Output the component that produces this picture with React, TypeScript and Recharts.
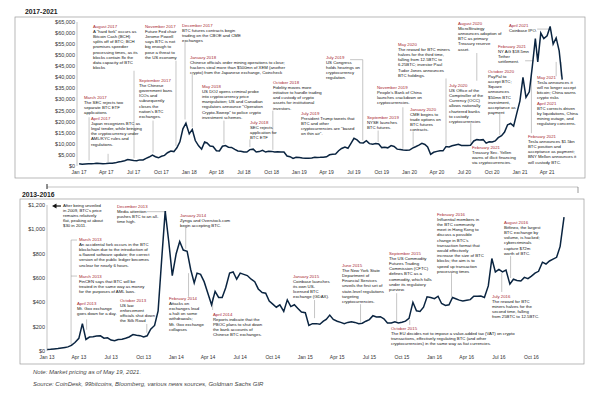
import React from "react";
import { LineChart, Line, XAxis, YAxis, ReferenceLine } from "recharts";

// ---- price data: one value per ten-day period (1st, 11th, 21st of each month) ----
const dekadDays = [1, 11, 21];

const topYears = [2017, 2018, 2019, 2020, 2021];
const price2017 = [
  1000, 800, 920, 990, 1000, 1110, 1230, 1150, 1000, 1080, 1200, 1260,
  1420, 1820, 2050, 2400, 2900, 2700, 2480, 2330, 2750, 2720, 3450, 4050,
  4900, 4200, 3700, 4400, 4800, 6000, 6750, 6500, 8200, 10900, 16800, 19300,
];
const price2018 = [
  14500, 16500, 11500, 9100, 7600, 10800, 10400, 9000, 8800, 6900, 6800, 8900,
  9200, 8500, 8400, 7500, 6800, 6700, 6350, 6300, 7400, 7600, 6300, 6500,
  7100, 6300, 6700, 6600, 6300, 6450, 6350, 6350, 4500, 4200, 3450, 3950,
];
const price2019 = [
  3800, 3650, 3550, 3450, 3650, 3950, 3850, 3900, 4000, 4150, 5050, 5300,
  5400, 6900, 7900, 8550, 8000, 10200, 12500, 11800, 10500, 10400, 11400, 10100,
  9800, 10100, 9950, 8300, 8500, 8200, 9200, 8800, 7600, 7400, 7200, 7150,
];
const price2020 = [
  7200, 8100, 8700, 9400, 10200, 9700, 8600, 5300, 6200, 6600, 6900, 6850,
  8800, 8600, 9100, 9500, 9800, 9300, 9200, 9250, 9400, 11300, 11900, 11700,
  11900, 10300, 10900, 10800, 11300, 12800, 13700, 15300, 18600, 19200, 18000, 23500,
];
const price2021 = [29400, 40000, 31000, 33500, 45000, 57500, 47000, 60000, 57500, 58800, 63000, 55000, 57800, 52000, 39000];
const topSeries = [price2017, price2018, price2019, price2020, price2021];

const bottomYears = [2013, 2014, 2015, 2016, 2017];
const price2013 = [
  13.3, 14.2, 17, 20, 24.5, 29.5, 34, 46, 70, 104, 225, 95,
  115, 118, 124, 125, 105, 108, 90, 85, 95, 97, 105, 115,
  135, 130, 126, 115, 125, 180, 210, 330, 750, 1150, 900, 620,
];
const price2014 = [
  800, 900, 830, 820, 670, 560, 640, 630, 570, 470, 380, 490,
  440, 440, 520, 640, 650, 590, 640, 630, 620, 590, 570, 510,
  480, 475, 410, 385, 360, 380, 325, 420, 365, 380, 350, 320,
];
const price2015 = [
  315, 210, 225, 225, 220, 245, 260, 295, 260, 245, 235, 225,
  235, 240, 235, 225, 228, 245, 258, 290, 280, 282, 265, 230,
  230, 240, 230, 237, 245, 268, 400, 330, 325, 360, 445, 440,
];
const price2016 = [
  430, 450, 390, 375, 380, 440, 430, 418, 412, 417, 422, 450,
  450, 452, 440, 535, 760, 650, 670, 650, 665, 550, 590, 580,
  575, 605, 595, 615, 640, 655, 730, 715, 740, 755, 770, 860,
];
const price2017b = [1100];
const bottomSeries = [price2013, price2014, price2015, price2016, price2017b];

// ---- axes ----
const topTickLabels = [
  "Jan 17", "Apr 17", "Jul 17", "Oct 17", "Jan 18", "Apr 18", "Jul 18", "Oct 18", "Jan 19",
  "Apr 19", "Jul 19", "Oct 19", "Jan 20", "Apr 20", "Jul 20", "Oct 20", "Jan 21", "Apr 21",
];
const bottomTickLabels = [
  "Jan 13", "Apr 13", "Jul 13", "Oct 13", "Jan 14", "Apr 14", "Jul 14", "Oct 14",
  "Jan 15", "Apr 15", "Jul 15", "Oct 15", "Jan 16", "Apr 16", "Jul 16", "Oct 16",
];
const topYTicks = [0, 5000, 10000, 15000, 20000, 25000, 30000, 35000, 40000, 45000, 50000, 55000, 60000, 65000];
const topYLabels = ["$0", "$5,000", "$10,000", "$15,000", "$20,000", "$25,000", "$30,000", "$35,000", "$40,000", "$45,000", "$50,000", "$55,000", "$60,000", "$65,000"];
const bottomYTicks = [0, 200, 400, 600, 800, 1000, 1200];
const bottomYLabels = ["$0", "$200", "$400", "$600", "$800", "$1,000", "$1,200"];

// ---- leader lines: [date, low, high] in price units ----
const topLeaders: [string, number, number][] = [
  ["2017-02-03", 2500, 22000],
  ["2017-04-07", 1800, 5500],
  ["2017-07-02", 3500, 43000],
  ["2017-09-03", 6000, 20500],
  ["2017-11-18", 9000, 47500],
  ["2017-12-18", 21000, 56000],
  ["2018-01-11", 17500, 41500],
  ["2018-04-26", 10000, 20500],
  ["2018-07-21", 8500, 12000],
  ["2018-10-05", 7300, 25000],
  ["2019-07-30", 11500, 48000],
  ["2019-09-19", 10800, 16000],
  ["2019-12-10", 7800, 26500],
  ["2020-01-13", 8800, 15600],
  ["2020-05-01", 9500, 39500],
  ["2020-07-22", 10200, 19300],
  ["2020-08-11", 38500, 51000],
  ["2020-10-26", 14000, 23500],
  ["2021-02-08", 14800, 42000],
  ["2021-05-01", 40500, 47000],
  ["2021-05-17", 40500, 47000],
];
const topFlatLeaders: [string, string, number][] = [
  ["2019-06-18", "2019-07-30", 48000],
  ["2021-01-18", "2021-02-17", 47500],
  ["2021-02-27", "2021-04-08", 61800],
];
const bottomLeaders: [string, number, number][] = [
  ["2013-03-10", 50, 912],
  ["2013-04-23", 175, 260],
  ["2013-10-10", 150, 222],
  ["2014-01-28", 840, 1011],
  ["2014-02-05", 445, 640],
  ["2014-04-14", 337, 440],
  ["2015-01-27", 270, 419],
  ["2015-06-06", 240, 385],
  ["2015-09-16", 245, 475],
  ["2015-10-23", 214, 255],
  ["2016-02-18", 445, 640],
  ["2016-08-03", 600, 780],
  ["2016-07-09", 485, 640],
];
const bottomFlatLeaders: [string, string, number][] = [
  ["2013-03-10", "2013-03-27", 912],
  ["2013-03-10", "2013-03-27", 616],
  ["2013-10-10", "2013-12-05", 1145],
];

// ---- annotation texts ----
type Note = { x: number; y: number; title: string; lines: string[] };
const topNotes: Note[] = [
  { x: 84, y: 97, title: "March 2017", lines: ["The SEC rejects two", "separate BTC ETF", "applications"] },
  { x: 91, y: 118, title: "April 2017", lines: ["Japan recognizes BTC as", "legal tender, while bringing", "the cryptocurrency under", "AML/KYC rules and", "regulations."] },
  { x: 93, y: 26, title: "August 2017", lines: ['A "hard fork" occurs as', "Bitcoin Cash (BCH)", "splits off of BTC; BCH", "promises speedier", "processing times, as its", "blocks contain 8x the", "data capacity of BTC", "blocks"] },
  { x: 139, y: 80, title: "September 2017", lines: ["The Chinese", "government bans", "ICOs and", "subsequently", "closes the", "nation's BTC", "exchanges."] },
  { x: 145, y: 26, title: "November 2017", lines: ["Future Fed chair", "Jerome Powell", "says BTC is not", "big enough to", "pose a threat to", "the US economy"] },
  { x: 182, y: 25, title: "December 2017", lines: ["BTC futures contracts begin", "trading on the CBOE and CME", "exchanges"] },
  { x: 190, y: 57, title: "January 2018", lines: ["Chinese officials order mining operations to close;", "hackers steal more than $500mn of XEM (another", "crypto) from the Japanese exchange, Coincheck"] },
  { x: 202, y: 86, title: "May 2018", lines: ["US DOJ opens criminal probe", "into cryptocurrency price", "manipulation; US and Canadian", 'regulators announce "Operation', 'Crypto-Sweep" to police crypto', "investment schemes."] },
  { x: 250, y: 122, title: "July 2018", lines: ["SEC rejects", "application for", "BTC ETF"] },
  { x: 273, y: 82, title: "October 2018", lines: ["Fidelity moves more", "initiative to handle trading", "and custody of crypto", "assets for institutional", "investors."] },
  { x: 326, y: 57, title: "July 2019", lines: ["US Congress", "holds hearings on", "cryptocurrency", "regulation."] },
  { x: 301, y: 113, title: "July 2019", lines: ["President Trump tweets that", "BTC and other", 'cryptocurrencies are "based', 'on thin air".'] },
  { x: 377, y: 87, title: "November 2019", lines: ["People's Bank of China", "launches crackdown on", "cryptocurrencies."] },
  { x: 367, y: 117, title: "September 2019", lines: ["NYSE launches", "BTC futures."] },
  { x: 398, y: 44, title: "May 2020", lines: ["The reward for BTC miners", "halves for the third time,", "falling from 12.5BTC to", "6.25BTC; investor Paul", "Tudor Jones announces", "BTC holdings."] },
  { x: 410, y: 109, title: "January 2020", lines: ["CME begins to", "trade options on", "BTC futures", "contracts."] },
  { x: 458, y: 23, title: "August 2020", lines: ["MicroStrategy", "announces adoption of", "BTC as primary", "Treasury reserve", "asset."] },
  { x: 449, y: 85, title: "July 2020", lines: ["US Office of the", "Comptroller of the", "Currency (OCC)", "allows nationally", "chartered banks", "to custody", "cryptocurrencies"] },
  { x: 488, y: 71, title: "October 2020", lines: ["PayPal to", "accept BTC;", "Square", "announces", "$50mn BTC", "investment,", "acceptance as", "payment"] },
  { x: 498, y: 46, title: "February 2021", lines: ["NY AG $18.5mn", "Tether", "settlement."] },
  { x: 509, y: 25, title: "April 2021", lines: ["Coinbase IPO."] },
  { x: 537, y: 77, title: "May 2021", lines: ["Tesla announces it", "will no longer accept", "bitcoin; China warns", "crypto risks"] },
  { x: 537, y: 103, title: "April 2021", lines: ["BTC corrects driven", "by liquidations, China", "mining outage, and", "regulatory concerns."] },
  { x: 528, y: 136, title: "February 2021", lines: ["Tesla announces $1.5bn", "BTC position and", "acceptance as payment;", "BNY Mellon announces it", "will custody BTC."] },
  { x: 472, y: 147, title: "February 2021", lines: ["Treasury Sec. Yellen", "warns of illicit financing", "via cryptocurrencies."] },
];
const bottomNotes: Note[] = [
  { x: 63, y: 205, title: "", lines: ["After being unveiled", "in 2009, BTC's price", "remains relatively", "flat, peaking at about", "$30 in 2011."] },
  { x: 117, y: 206, title: "December 2013", lines: ["Media attention", "pushes BTC to an all-", "time high."] },
  { x: 79, y: 239, title: "March 2013", lines: ["An accidental fork occurs in the BTC", "blockchain due to the introduction of", "a flawed software update; the correct", "version of the public ledger becomes", "unclear for nearly 6 hours."] },
  { x: 79, y: 276, title: "March 2013", lines: ["FinCEN says that BTC will be", "treated in the same way as money", "for the purposes of AML laws."] },
  { x: 77, y: 303, title: "April 2013", lines: ["Mt. Gox exchange", "goes down for a day."] },
  { x: 120, y: 300, title: "October 2013", lines: ["US law", "enforcement", "officials shut down", "the Silk Road"] },
  { x: 180, y: 215, title: "January  2014", lines: ["Zynga and Overstock.com", "begin accepting BTC."] },
  { x: 169, y: 298, title: "February 2014", lines: ["Attacks on", "exchanges lead", "a halt on some", "withdrawals;", "Mt. Gox exchange", "collapses"] },
  { x: 213, y: 314, title: "April 2014", lines: ["Reports indicate that the", "PBOC plans to shut down", "the bank accounts of", "Chinese BTC exchanges."] },
  { x: 293, y: 276, title: "January 2015", lines: ["Coinbase launches", "its own US-", "licensed BTC", "exchange (GDAX)."] },
  { x: 342, y: 265, title: "June 2015", lines: ["The New York State", "Department of", "Financial Services", "unveils the first set of", "state-level regulations", "targeting", "cryptocurrencies."] },
  { x: 389, y: 253, title: "September 2015", lines: ["The US Commodity", "Futures Trading", "Commission (CFTC)", "defines BTC as a", "commodity, which falls", "under its regulatory", "purview."] },
  { x: 391, y: 328, title: "October 2015", lines: ["The EU decides not to impose a value-added tax (VAT) on crypto", "transactions, effectively regulating BTC (and other", "cryptocurrencies) in the same way as fiat currencies."] },
  { x: 437, y: 214, title: "February 2016", lines: ["Influential members in", "the BTC community", "meet in Hong Kong to", "discuss a possible", "change in BTC's", "transaction format that", "would effectively", "increase the size of BTC", "blocks; the aim is to", "speed up transaction", "processing times"] },
  { x: 504, y: 222, title: "August 2016", lines: ["Bitfinex, the largest", "BTC exchange by", "volume, is hacked;", "cybercriminals", "capture $72m", "worth of BTC."] },
  { x: 492, y: 296, title: "July 2016", lines: ["The reward for BTC", "miners halves for the", "second time, falling", "from 25BTC to 12.5BTC."] },
];

const FONT = "'Liberation Sans', Arial, Helvetica, sans-serif";
const RED = "#a8262f";
const LINE = "#0a2440";
const GREY = "#8c8c8c";
const FS = 4.3;
const LH = 5.2;

const MONTH_INDEX: Record<string, number> = { Jan: 0, Apr: 3, Jul: 6, Oct: 9 };

function dayOf(date: string, startYear: number) {
  return (Date.parse(date) - Date.UTC(startYear, 0, 1)) / 864e5;
}

function buildSeries(years: number[], series: number[][]) {
  const origin = Date.UTC(years[0], 0, 1);
  const rows: { d: number; price: number }[] = [];
  years.forEach((yr, yi) =>
    series[yi].forEach((p, k) => {
      const t = Date.UTC(yr, Math.floor(k / 3), dekadDays[k % 3]);
      rows.push({ d: (t - origin) / 864e5, price: p });
    })
  );
  return rows;
}

function tickDays(labels: string[], startYear: number) {
  return labels.map(
    (l) => (Date.UTC(2000 + Number(l.slice(4)), MONTH_INDEX[l.slice(0, 3)], 1) - Date.UTC(startYear, 0, 1)) / 864e5
  );
}

const topData = buildSeries(topYears, topSeries);
const bottomData = buildSeries(bottomYears, bottomSeries);
const topTicks = tickDays(topTickLabels, 2017);
const bottomTicks = tickDays(bottomTickLabels, 2013);

function NoteText({ n }: { n: Note }) {
  const offset = n.title ? 1 : 0;
  return (
    <g fontFamily={FONT} fontSize={FS}>
      {n.title && (
        <text x={n.x} y={n.y + 1.5} fill={RED}>
          {n.title}
        </text>
      )}
      {n.lines.map((l, i) => (
        <text key={i} x={n.x} y={n.y + 1.5 + LH * (i + offset)} fill="#111">
          {l}
        </text>
      ))}
    </g>
  );
}

function PriceChart(props: {
  top: number;
  height: number;
  marginTop: number;
  marginRight: number;
  yWidth: number;
  data: { d: number; price: number }[];
  xDomain: [number, number];
  xTicks: number[];
  xLabels: string[];
  yTicks: number[];
  yLabels: string[];
  startYear: number;
  leaders: [string, number, number][];
  flat: [string, string, number][];
}) {
  const p = props;
  return (
    <div style={{ position: "absolute", left: 0, top: p.top }}>
      <LineChart width={600} height={p.height} data={p.data} margin={{ top: p.marginTop, right: p.marginRight, bottom: 0, left: 0 }}>
        <XAxis
          type="number"
          dataKey="d"
          domain={p.xDomain}
          ticks={p.xTicks}
          interval={0}
          allowDataOverflow
          tickFormatter={(v: number) => p.xLabels[p.xTicks.indexOf(v)] ?? ""}
          height={14}
          tickSize={0}
          tickMargin={4}
          axisLine={false}
          tickLine={false}
          tick={{ fontSize: 5, fill: "#333", fontFamily: FONT }}
        />
        <YAxis
          type="number"
          domain={[p.yTicks[0], p.yTicks[p.yTicks.length - 1]]}
          ticks={p.yTicks}
          interval={0}
          width={p.yWidth}
          tickFormatter={(v: number) => p.yLabels[p.yTicks.indexOf(v)] ?? ""}
          tickSize={0}
          tickMargin={2}
          tickLine={false}
          axisLine={{ stroke: "#9a9a9a", strokeWidth: 0.6 }}
          tick={{ fontSize: 5.5, fill: "#333", fontFamily: FONT }}
        />
        {p.leaders.map(([date, lo, hi], i) => (
          <ReferenceLine
            key={"v" + i}
            segment={[
              { x: dayOf(date, p.startYear), y: lo },
              { x: dayOf(date, p.startYear), y: hi },
            ]}
            stroke={GREY}
            strokeWidth={0.5}
          />
        ))}
        {p.flat.map(([d1, d2, v], i) => (
          <ReferenceLine
            key={"h" + i}
            segment={[
              { x: dayOf(d1, p.startYear), y: v },
              { x: dayOf(d2, p.startYear), y: v },
            ]}
            stroke={GREY}
            strokeWidth={0.5}
          />
        ))}
        <Line type="linear" dataKey="price" stroke={LINE} strokeWidth={1.5} dot={false} isAnimationActive={false} />
      </LineChart>
    </div>
  );
}

export default function App() {
  return (
    <div style={{ position: "absolute", left: 0, top: 0, width: 600, height: 395, background: "#fff", overflow: "hidden" }}>
      <PriceChart
        top={0}
        height={180}
        marginTop={22}
        marginRight={20}
        yWidth={77}
        data={topData}
        xDomain={[-7, 1660]}
        xTicks={topTicks}
        xLabels={topTickLabels}
        yTicks={topYTicks}
        yLabels={topYLabels}
        startYear={2017}
        leaders={topLeaders}
        flat={topFlatLeaders}
      />
      <PriceChart
        top={190}
        height={175}
        marginTop={15}
        marginRight={25}
        yWidth={47}
        data={bottomData}
        xDomain={[0, 1492]}
        xTicks={bottomTicks}
        xLabels={bottomTickLabels}
        yTicks={bottomYTicks}
        yLabels={bottomYLabels}
        startYear={2013}
        leaders={bottomLeaders}
        flat={bottomFlatLeaders}
      />
      <svg width={600} height={395} style={{ position: "absolute", left: 0, top: 0, pointerEvents: "none" }}>
        <rect x={15} y={17} width={570} height={161} fill="none" stroke="#9a9a9a" strokeWidth={0.7} />
        <rect x={20} y={199} width={564} height={165} fill="none" stroke="#9a9a9a" strokeWidth={0.7} />
        <line x1={47} y1={187} x2={578} y2={187} stroke="#9a9a9a" strokeWidth={0.6} />
        <line x1={47} y1={184} x2={47} y2={189} stroke="#222" strokeWidth={1} />
        <line x1={578} y1={187} x2={578} y2={193} stroke="#555" strokeWidth={0.6} />
        <text x={25} y={14} fontFamily={FONT} fontSize={6.8} fontWeight="bold" fill="#222">
          2017-2021
        </text>
        <text x={22} y={197} fontFamily={FONT} fontSize={6.8} fontWeight="bold" fill="#222">
          2013-2016
        </text>
        <polygon points="52,206 56.5,203.6 56.5,208.4" fill="#111" />
        <line x1={56} y1={206} x2={61} y2={206} stroke="#111" strokeWidth={1.2} />
        {topNotes.map((n, i) => (
          <NoteText key={"t" + i} n={n} />
        ))}
        {bottomNotes.map((n, i) => (
          <NoteText key={"b" + i} n={n} />
        ))}
        <text x={33} y={374} fontFamily={FONT} fontSize={6} fontStyle="italic" fill="#444">
          Note: Market pricing as of May 19, 2021.
        </text>
        <text x={33} y={386} fontFamily={FONT} fontSize={6} fontStyle="italic" fill="#444">
          Source: CoinDesk, 99bitcoins, Bloomberg, various news sources, Goldman Sachs GIR
        </text>
      </svg>
    </div>
  );
}
